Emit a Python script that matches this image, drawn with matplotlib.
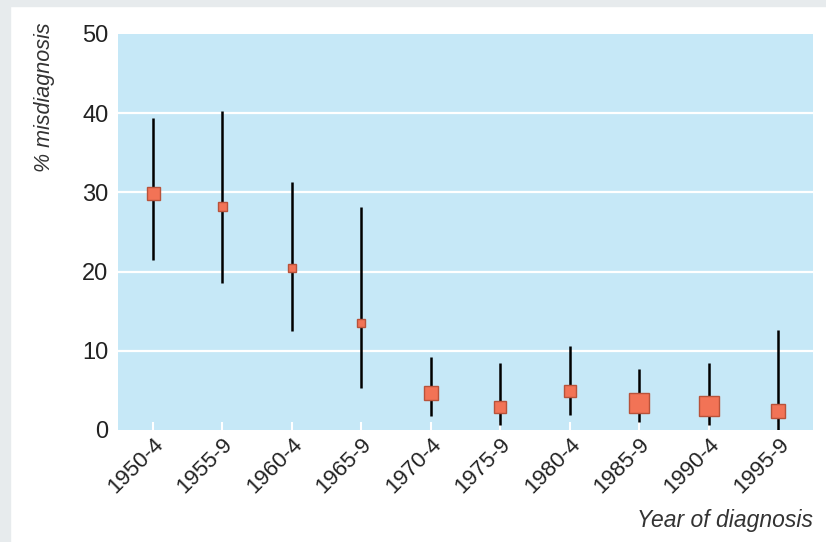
import matplotlib
matplotlib.use("Agg")
import matplotlib.pyplot as plt
from matplotlib.patches import Rectangle

periods = ["1950-4", "1955-9", "1960-4", "1965-9", "1970-4",
           "1975-9", "1980-4", "1985-9", "1990-4", "1995-9"]
pct = [29.9, 28.3, 20.4, 13.5, 4.7, 2.9, 4.9, 3.4, 3.0, 2.4]
ci_low = [21.5, 18.6, 12.5, 5.3, 1.8, 0.6, 1.9, 1.0, 0.6, 0.0]
ci_high = [39.4, 40.3, 31.3, 28.2, 9.2, 8.4, 10.6, 7.7, 8.4, 12.6]
weight = [13, 9, 8, 8, 14, 12, 12.5, 20, 20.5, 14]  # marker side, px
yticks = [0, 10, 20, 30, 40, 50]

plt.rcParams['font.family'] = ['Liberation Sans', 'DejaVu Sans']

W, H, DPI = 826, 542, 100
fig = plt.figure(figsize=(W / DPI, H / DPI), dpi=DPI)
fig.patch.set_facecolor("white")
border = "#e7ebed"
fig.add_artist(Rectangle((0, 0), 10 / W, 1, transform=fig.transFigure,
                         color=border, zorder=-10))
fig.add_artist(Rectangle((0, 1 - 6 / H), 1, 6 / H, transform=fig.transFigure,
                         color=border, zorder=-10))

left, right, top, bottom = 118, 813, 34, 430
ax = fig.add_axes([left / W, 1 - bottom / H, (right - left) / W, (bottom - top) / H])
ax.set_facecolor("#c6e8f7")
for s in ax.spines.values():
    s.set_visible(False)

x = list(range(len(periods)))
ax.set_xlim(-0.5, len(periods) - 0.5)
ax.set_ylim(0, 50)
for yv in yticks[1:-1]:
    ax.axhline(yv, color="white", lw=1.6, zorder=1)

ax.vlines(x, ci_low, ci_high, color="black", lw=1.8, zorder=2)
for xi, p, w in zip(x, pct, weight):
    ax.plot(xi, p, marker="s", ms=w * 0.72, mfc="#f27356", mec="#b8523a",
            mew=1.0, zorder=3, ls="none")

ax.set_yticks(yticks)
ax.set_yticklabels([str(v) for v in yticks], fontsize=17, color="#222222")
ax.tick_params(axis="y", length=0, pad=7)
ax.set_xticks(x)
ax.set_xticklabels(periods, rotation=45, ha="right", va="top",
                   rotation_mode="anchor", fontsize=16, color="#222222")
ax.tick_params(axis="x", direction="in", length=6, width=1.5, color="white", pad=3)

fig.text(45 / W, 1 - 22 / H, "% misdiagnosis", rotation=90, style="italic",
         fontsize=15.5, color="#333333", ha="center", va="top")
fig.text(813 / W, 1 - 521 / H, "Year of diagnosis", style="italic",
         fontsize=16.5, color="#333333", ha="right", va="center")

fig.savefig("out.png", dpi=DPI)
